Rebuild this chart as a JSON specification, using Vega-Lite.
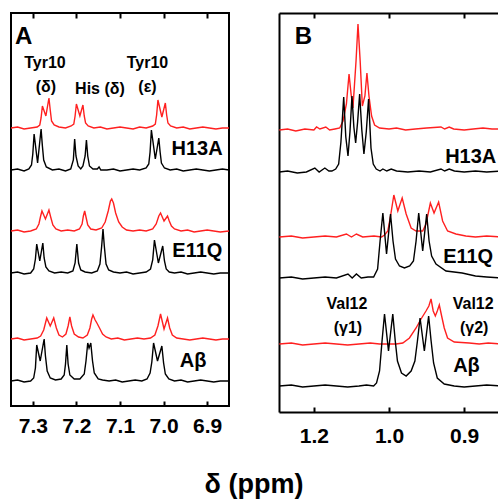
{
  "$schema": "https://vega.github.io/schema/vega-lite/v6.json",
  "autosize": {"type": "pad"},
  "padding": {"left": 10, "top": 11, "right": 0, "bottom": 2},
  "background": "white",
  "config": {"view": {"stroke": null}, "font": "Liberation Sans"},
  "bounds": "flush",
  "spacing": 50,
  "title": {"text": "δ (ppm)", "orient": "bottom", "anchor": "middle", "fontSize": 27, "fontWeight": "bold", "font": "Liberation Sans", "color": "black", "offset": 26},
  "datasets": {
    "specA": [
      {"sample":"H13A","condition":"bound","shift":7.350,"signal":278},{"sample":"H13A","condition":"bound","shift":7.335,"signal":279},{"sample":"H13A","condition":"bound","shift":7.320,"signal":277},{"sample":"H13A","condition":"bound","shift":7.305,"signal":278},{"sample":"H13A","condition":"bound","shift":7.290,"signal":279},{"sample":"H13A","condition":"bound","shift":7.284,"signal":281},{"sample":"H13A","condition":"bound","shift":7.281,"signal":288},{"sample":"H13A","condition":"bound","shift":7.278,"signal":300},{"sample":"H13A","condition":"bound","shift":7.270,"signal":290},{"sample":"H13A","condition":"bound","shift":7.263,"signal":308},{"sample":"H13A","condition":"bound","shift":7.260,"signal":296},{"sample":"H13A","condition":"bound","shift":7.257,"signal":285},{"sample":"H13A","condition":"bound","shift":7.251,"signal":281},{"sample":"H13A","condition":"bound","shift":7.240,"signal":279},{"sample":"H13A","condition":"bound","shift":7.225,"signal":278},{"sample":"H13A","condition":"bound","shift":7.212,"signal":280},{"sample":"H13A","condition":"bound","shift":7.206,"signal":282},{"sample":"H13A","condition":"bound","shift":7.203,"signal":290},{"sample":"H13A","condition":"bound","shift":7.200,"signal":302},{"sample":"H13A","condition":"bound","shift":7.192,"signal":290},{"sample":"H13A","condition":"bound","shift":7.185,"signal":301},{"sample":"H13A","condition":"bound","shift":7.182,"signal":290},{"sample":"H13A","condition":"bound","shift":7.179,"signal":283},{"sample":"H13A","condition":"bound","shift":7.173,"signal":280},{"sample":"H13A","condition":"bound","shift":7.160,"signal":278},{"sample":"H13A","condition":"bound","shift":7.145,"signal":279},{"sample":"H13A","condition":"bound","shift":7.130,"signal":277},{"sample":"H13A","condition":"bound","shift":7.115,"signal":278},{"sample":"H13A","condition":"bound","shift":7.100,"signal":279},{"sample":"H13A","condition":"bound","shift":7.085,"signal":278},{"sample":"H13A","condition":"bound","shift":7.070,"signal":277},{"sample":"H13A","condition":"bound","shift":7.055,"signal":279},{"sample":"H13A","condition":"bound","shift":7.040,"signal":278},{"sample":"H13A","condition":"bound","shift":7.025,"signal":280},{"sample":"H13A","condition":"bound","shift":7.019,"signal":282},{"sample":"H13A","condition":"bound","shift":7.016,"signal":291},{"sample":"H13A","condition":"bound","shift":7.013,"signal":306},{"sample":"H13A","condition":"bound","shift":7.004,"signal":289},{"sample":"H13A","condition":"bound","shift":6.996,"signal":303},{"sample":"H13A","condition":"bound","shift":6.993,"signal":291},{"sample":"H13A","condition":"bound","shift":6.990,"signal":283},{"sample":"H13A","condition":"bound","shift":6.984,"signal":280},{"sample":"H13A","condition":"bound","shift":6.970,"signal":278},{"sample":"H13A","condition":"bound","shift":6.955,"signal":279},{"sample":"H13A","condition":"bound","shift":6.940,"signal":277},{"sample":"H13A","condition":"bound","shift":6.925,"signal":278},{"sample":"H13A","condition":"bound","shift":6.910,"signal":279},{"sample":"H13A","condition":"bound","shift":6.895,"signal":278},{"sample":"H13A","condition":"bound","shift":6.880,"signal":277},{"sample":"H13A","condition":"bound","shift":6.865,"signal":278},{"sample":"H13A","condition":"bound","shift":6.850,"signal":278},

      {"sample":"H13A","condition":"free","shift":7.350,"signal":236},{"sample":"H13A","condition":"free","shift":7.335,"signal":237},{"sample":"H13A","condition":"free","shift":7.320,"signal":235},{"sample":"H13A","condition":"free","shift":7.309,"signal":237},{"sample":"H13A","condition":"free","shift":7.303,"signal":241},{"sample":"H13A","condition":"free","shift":7.300,"signal":252},{"sample":"H13A","condition":"free","shift":7.297,"signal":272},{"sample":"H13A","condition":"free","shift":7.289,"signal":243},{"sample":"H13A","condition":"free","shift":7.281,"signal":277},{"sample":"H13A","condition":"free","shift":7.278,"signal":260},{"sample":"H13A","condition":"free","shift":7.275,"signal":246},{"sample":"H13A","condition":"free","shift":7.269,"signal":239},{"sample":"H13A","condition":"free","shift":7.255,"signal":236},{"sample":"H13A","condition":"free","shift":7.240,"signal":237},{"sample":"H13A","condition":"free","shift":7.225,"signal":235},{"sample":"H13A","condition":"free","shift":7.213,"signal":237},{"sample":"H13A","condition":"free","shift":7.207,"signal":246},{"sample":"H13A","condition":"free","shift":7.204,"signal":267},{"sample":"H13A","condition":"free","shift":7.201,"signal":250},{"sample":"H13A","condition":"free","shift":7.196,"signal":240},{"sample":"H13A","condition":"free","shift":7.190,"signal":237},{"sample":"H13A","condition":"free","shift":7.185,"signal":240},{"sample":"H13A","condition":"free","shift":7.180,"signal":250},{"sample":"H13A","condition":"free","shift":7.177,"signal":266},{"sample":"H13A","condition":"free","shift":7.174,"signal":250},{"sample":"H13A","condition":"free","shift":7.170,"signal":240},{"sample":"H13A","condition":"free","shift":7.162,"signal":237},{"sample":"H13A","condition":"free","shift":7.152,"signal":237},{"sample":"H13A","condition":"free","shift":7.148,"signal":239},{"sample":"H13A","condition":"free","shift":7.144,"signal":236},{"sample":"H13A","condition":"free","shift":7.130,"signal":236},{"sample":"H13A","condition":"free","shift":7.115,"signal":237},{"sample":"H13A","condition":"free","shift":7.100,"signal":235},{"sample":"H13A","condition":"free","shift":7.085,"signal":236},{"sample":"H13A","condition":"free","shift":7.070,"signal":237},{"sample":"H13A","condition":"free","shift":7.055,"signal":236},{"sample":"H13A","condition":"free","shift":7.040,"signal":238},{"sample":"H13A","condition":"free","shift":7.034,"signal":242},{"sample":"H13A","condition":"free","shift":7.031,"signal":254},{"sample":"H13A","condition":"free","shift":7.028,"signal":276},{"sample":"H13A","condition":"free","shift":7.019,"signal":247},{"sample":"H13A","condition":"free","shift":7.011,"signal":268},{"sample":"H13A","condition":"free","shift":7.008,"signal":254},{"sample":"H13A","condition":"free","shift":7.005,"signal":243},{"sample":"H13A","condition":"free","shift":6.998,"signal":238},{"sample":"H13A","condition":"free","shift":6.985,"signal":236},{"sample":"H13A","condition":"free","shift":6.970,"signal":237},{"sample":"H13A","condition":"free","shift":6.955,"signal":235},{"sample":"H13A","condition":"free","shift":6.940,"signal":236},{"sample":"H13A","condition":"free","shift":6.925,"signal":237},{"sample":"H13A","condition":"free","shift":6.910,"signal":236},{"sample":"H13A","condition":"free","shift":6.895,"signal":235},{"sample":"H13A","condition":"free","shift":6.880,"signal":236},{"sample":"H13A","condition":"free","shift":6.865,"signal":237},{"sample":"H13A","condition":"free","shift":6.850,"signal":236},

      {"sample":"E11Q","condition":"bound","shift":7.350,"signal":175},{"sample":"E11Q","condition":"bound","shift":7.335,"signal":176},{"sample":"E11Q","condition":"bound","shift":7.320,"signal":174},{"sample":"E11Q","condition":"bound","shift":7.305,"signal":175},{"sample":"E11Q","condition":"bound","shift":7.292,"signal":177},{"sample":"E11Q","condition":"bound","shift":7.286,"signal":182},{"sample":"E11Q","condition":"bound","shift":7.282,"signal":190},{"sample":"E11Q","condition":"bound","shift":7.279,"signal":195},{"sample":"E11Q","condition":"bound","shift":7.271,"signal":187},{"sample":"E11Q","condition":"bound","shift":7.263,"signal":196},{"sample":"E11Q","condition":"bound","shift":7.259,"signal":189},{"sample":"E11Q","condition":"bound","shift":7.254,"signal":181},{"sample":"E11Q","condition":"bound","shift":7.247,"signal":177},{"sample":"E11Q","condition":"bound","shift":7.235,"signal":175},{"sample":"E11Q","condition":"bound","shift":7.220,"signal":176},{"sample":"E11Q","condition":"bound","shift":7.205,"signal":175},{"sample":"E11Q","condition":"bound","shift":7.193,"signal":177},{"sample":"E11Q","condition":"bound","shift":7.187,"signal":182},{"sample":"E11Q","condition":"bound","shift":7.184,"signal":190},{"sample":"E11Q","condition":"bound","shift":7.181,"signal":195},{"sample":"E11Q","condition":"bound","shift":7.178,"signal":189},{"sample":"E11Q","condition":"bound","shift":7.174,"signal":181},{"sample":"E11Q","condition":"bound","shift":7.167,"signal":177},{"sample":"E11Q","condition":"bound","shift":7.155,"signal":176},{"sample":"E11Q","condition":"bound","shift":7.142,"signal":178},{"sample":"E11Q","condition":"bound","shift":7.134,"signal":184},{"sample":"E11Q","condition":"bound","shift":7.127,"signal":195},{"sample":"E11Q","condition":"bound","shift":7.122,"signal":205},{"sample":"E11Q","condition":"bound","shift":7.119,"signal":207},{"sample":"E11Q","condition":"bound","shift":7.115,"signal":203},{"sample":"E11Q","condition":"bound","shift":7.110,"signal":193},{"sample":"E11Q","condition":"bound","shift":7.103,"signal":184},{"sample":"E11Q","condition":"bound","shift":7.095,"signal":179},{"sample":"E11Q","condition":"bound","shift":7.085,"signal":176},{"sample":"E11Q","condition":"bound","shift":7.070,"signal":175},{"sample":"E11Q","condition":"bound","shift":7.055,"signal":176},{"sample":"E11Q","condition":"bound","shift":7.040,"signal":175},{"sample":"E11Q","condition":"bound","shift":7.025,"signal":177},{"sample":"E11Q","condition":"bound","shift":7.017,"signal":182},{"sample":"E11Q","condition":"bound","shift":7.011,"signal":190},{"sample":"E11Q","condition":"bound","shift":7.007,"signal":193},{"sample":"E11Q","condition":"bound","shift":6.999,"signal":185},{"sample":"E11Q","condition":"bound","shift":6.991,"signal":190},{"sample":"E11Q","condition":"bound","shift":6.987,"signal":185},{"sample":"E11Q","condition":"bound","shift":6.982,"signal":180},{"sample":"E11Q","condition":"bound","shift":6.975,"signal":177},{"sample":"E11Q","condition":"bound","shift":6.960,"signal":175},{"sample":"E11Q","condition":"bound","shift":6.945,"signal":176},{"sample":"E11Q","condition":"bound","shift":6.930,"signal":174},{"sample":"E11Q","condition":"bound","shift":6.915,"signal":175},{"sample":"E11Q","condition":"bound","shift":6.900,"signal":176},{"sample":"E11Q","condition":"bound","shift":6.885,"signal":175},{"sample":"E11Q","condition":"bound","shift":6.870,"signal":174},{"sample":"E11Q","condition":"bound","shift":6.850,"signal":175},

      {"sample":"E11Q","condition":"free","shift":7.350,"signal":133},{"sample":"E11Q","condition":"free","shift":7.335,"signal":134},{"sample":"E11Q","condition":"free","shift":7.320,"signal":132},{"sample":"E11Q","condition":"free","shift":7.305,"signal":133},{"sample":"E11Q","condition":"free","shift":7.298,"signal":137},{"sample":"E11Q","condition":"free","shift":7.294,"signal":147},{"sample":"E11Q","condition":"free","shift":7.291,"signal":162},{"sample":"E11Q","condition":"free","shift":7.284,"signal":145},{"sample":"E11Q","condition":"free","shift":7.277,"signal":163},{"sample":"E11Q","condition":"free","shift":7.274,"signal":148},{"sample":"E11Q","condition":"free","shift":7.270,"signal":139},{"sample":"E11Q","condition":"free","shift":7.263,"signal":135},{"sample":"E11Q","condition":"free","shift":7.250,"signal":133},{"sample":"E11Q","condition":"free","shift":7.235,"signal":134},{"sample":"E11Q","condition":"free","shift":7.220,"signal":133},{"sample":"E11Q","condition":"free","shift":7.208,"signal":135},{"sample":"E11Q","condition":"free","shift":7.203,"signal":143},{"sample":"E11Q","condition":"free","shift":7.199,"signal":162},{"sample":"E11Q","condition":"free","shift":7.195,"signal":143},{"sample":"E11Q","condition":"free","shift":7.190,"signal":136},{"sample":"E11Q","condition":"free","shift":7.180,"signal":134},{"sample":"E11Q","condition":"free","shift":7.165,"signal":133},{"sample":"E11Q","condition":"free","shift":7.152,"signal":135},{"sample":"E11Q","condition":"free","shift":7.146,"signal":142},{"sample":"E11Q","condition":"free","shift":7.142,"signal":160},{"sample":"E11Q","condition":"free","shift":7.139,"signal":177},{"sample":"E11Q","condition":"free","shift":7.136,"signal":160},{"sample":"E11Q","condition":"free","shift":7.132,"signal":142},{"sample":"E11Q","condition":"free","shift":7.126,"signal":136},{"sample":"E11Q","condition":"free","shift":7.115,"signal":134},{"sample":"E11Q","condition":"free","shift":7.100,"signal":133},{"sample":"E11Q","condition":"free","shift":7.085,"signal":134},{"sample":"E11Q","condition":"free","shift":7.070,"signal":132},{"sample":"E11Q","condition":"free","shift":7.055,"signal":133},{"sample":"E11Q","condition":"free","shift":7.040,"signal":134},{"sample":"E11Q","condition":"free","shift":7.030,"signal":137},{"sample":"E11Q","condition":"free","shift":7.025,"signal":146},{"sample":"E11Q","condition":"free","shift":7.021,"signal":166},{"sample":"E11Q","condition":"free","shift":7.012,"signal":143},{"sample":"E11Q","condition":"free","shift":7.002,"signal":160},{"sample":"E11Q","condition":"free","shift":6.998,"signal":145},{"sample":"E11Q","condition":"free","shift":6.994,"signal":137},{"sample":"E11Q","condition":"free","shift":6.987,"signal":134},{"sample":"E11Q","condition":"free","shift":6.975,"signal":133},{"sample":"E11Q","condition":"free","shift":6.960,"signal":134},{"sample":"E11Q","condition":"free","shift":6.945,"signal":132},{"sample":"E11Q","condition":"free","shift":6.930,"signal":133},{"sample":"E11Q","condition":"free","shift":6.915,"signal":134},{"sample":"E11Q","condition":"free","shift":6.900,"signal":133},{"sample":"E11Q","condition":"free","shift":6.885,"signal":132},{"sample":"E11Q","condition":"free","shift":6.870,"signal":133},{"sample":"E11Q","condition":"free","shift":6.850,"signal":133},

      {"sample":"Ab","condition":"bound","shift":7.350,"signal":67},{"sample":"Ab","condition":"bound","shift":7.335,"signal":68},{"sample":"Ab","condition":"bound","shift":7.320,"signal":66},{"sample":"Ab","condition":"bound","shift":7.305,"signal":67},{"sample":"Ab","condition":"bound","shift":7.290,"signal":68},{"sample":"Ab","condition":"bound","shift":7.282,"signal":70},{"sample":"Ab","condition":"bound","shift":7.275,"signal":76},{"sample":"Ab","condition":"bound","shift":7.268,"signal":88},{"sample":"Ab","condition":"bound","shift":7.260,"signal":80},{"sample":"Ab","condition":"bound","shift":7.252,"signal":88},{"sample":"Ab","condition":"bound","shift":7.246,"signal":78},{"sample":"Ab","condition":"bound","shift":7.240,"signal":71},{"sample":"Ab","condition":"bound","shift":7.232,"signal":69},{"sample":"Ab","condition":"bound","shift":7.224,"signal":72},{"sample":"Ab","condition":"bound","shift":7.219,"signal":80},{"sample":"Ab","condition":"bound","shift":7.215,"signal":89},{"sample":"Ab","condition":"bound","shift":7.211,"signal":80},{"sample":"Ab","condition":"bound","shift":7.205,"signal":72},{"sample":"Ab","condition":"bound","shift":7.195,"signal":69},{"sample":"Ab","condition":"bound","shift":7.185,"signal":68},{"sample":"Ab","condition":"bound","shift":7.175,"signal":71},{"sample":"Ab","condition":"bound","shift":7.169,"signal":78},{"sample":"Ab","condition":"bound","shift":7.165,"signal":87},{"sample":"Ab","condition":"bound","shift":7.162,"signal":91},{"sample":"Ab","condition":"bound","shift":7.157,"signal":86},{"sample":"Ab","condition":"bound","shift":7.153,"signal":83},{"sample":"Ab","condition":"bound","shift":7.147,"signal":78},{"sample":"Ab","condition":"bound","shift":7.140,"signal":72},{"sample":"Ab","condition":"bound","shift":7.132,"signal":69},{"sample":"Ab","condition":"bound","shift":7.120,"signal":67},{"sample":"Ab","condition":"bound","shift":7.105,"signal":68},{"sample":"Ab","condition":"bound","shift":7.090,"signal":66},{"sample":"Ab","condition":"bound","shift":7.075,"signal":67},{"sample":"Ab","condition":"bound","shift":7.060,"signal":68},{"sample":"Ab","condition":"bound","shift":7.045,"signal":67},{"sample":"Ab","condition":"bound","shift":7.030,"signal":68},{"sample":"Ab","condition":"bound","shift":7.020,"signal":71},{"sample":"Ab","condition":"bound","shift":7.013,"signal":80},{"sample":"Ab","condition":"bound","shift":7.007,"signal":92},{"sample":"Ab","condition":"bound","shift":6.999,"signal":77},{"sample":"Ab","condition":"bound","shift":6.991,"signal":88},{"sample":"Ab","condition":"bound","shift":6.986,"signal":78},{"sample":"Ab","condition":"bound","shift":6.980,"signal":71},{"sample":"Ab","condition":"bound","shift":6.970,"signal":68},{"sample":"Ab","condition":"bound","shift":6.955,"signal":67},{"sample":"Ab","condition":"bound","shift":6.940,"signal":66},{"sample":"Ab","condition":"bound","shift":6.925,"signal":67},{"sample":"Ab","condition":"bound","shift":6.910,"signal":68},{"sample":"Ab","condition":"bound","shift":6.895,"signal":67},{"sample":"Ab","condition":"bound","shift":6.880,"signal":66},{"sample":"Ab","condition":"bound","shift":6.865,"signal":67},{"sample":"Ab","condition":"bound","shift":6.850,"signal":67},

      {"sample":"Ab","condition":"free","shift":7.350,"signal":25},{"sample":"Ab","condition":"free","shift":7.335,"signal":26},{"sample":"Ab","condition":"free","shift":7.320,"signal":24},{"sample":"Ab","condition":"free","shift":7.305,"signal":25},{"sample":"Ab","condition":"free","shift":7.298,"signal":28},{"sample":"Ab","condition":"free","shift":7.294,"signal":38},{"sample":"Ab","condition":"free","shift":7.291,"signal":61},{"sample":"Ab","condition":"free","shift":7.283,"signal":45},{"sample":"Ab","condition":"free","shift":7.274,"signal":67},{"sample":"Ab","condition":"free","shift":7.271,"signal":50},{"sample":"Ab","condition":"free","shift":7.267,"signal":35},{"sample":"Ab","condition":"free","shift":7.260,"signal":28},{"sample":"Ab","condition":"free","shift":7.248,"signal":26},{"sample":"Ab","condition":"free","shift":7.235,"signal":27},{"sample":"Ab","condition":"free","shift":7.228,"signal":31},{"sample":"Ab","condition":"free","shift":7.225,"signal":42},{"sample":"Ab","condition":"free","shift":7.222,"signal":61},{"sample":"Ab","condition":"free","shift":7.219,"signal":42},{"sample":"Ab","condition":"free","shift":7.215,"signal":31},{"sample":"Ab","condition":"free","shift":7.205,"signal":27},{"sample":"Ab","condition":"free","shift":7.192,"signal":27},{"sample":"Ab","condition":"free","shift":7.182,"signal":32},{"sample":"Ab","condition":"free","shift":7.178,"signal":45},{"sample":"Ab","condition":"free","shift":7.174,"signal":63},{"sample":"Ab","condition":"free","shift":7.171,"signal":58},{"sample":"Ab","condition":"free","shift":7.167,"signal":63},{"sample":"Ab","condition":"free","shift":7.163,"signal":45},{"sample":"Ab","condition":"free","shift":7.159,"signal":33},{"sample":"Ab","condition":"free","shift":7.150,"signal":27},{"sample":"Ab","condition":"free","shift":7.140,"signal":26},{"sample":"Ab","condition":"free","shift":7.125,"signal":25},{"sample":"Ab","condition":"free","shift":7.110,"signal":26},{"sample":"Ab","condition":"free","shift":7.095,"signal":24},{"sample":"Ab","condition":"free","shift":7.080,"signal":25},{"sample":"Ab","condition":"free","shift":7.065,"signal":26},{"sample":"Ab","condition":"free","shift":7.050,"signal":25},{"sample":"Ab","condition":"free","shift":7.038,"signal":27},{"sample":"Ab","condition":"free","shift":7.031,"signal":33},{"sample":"Ab","condition":"free","shift":7.027,"signal":44},{"sample":"Ab","condition":"free","shift":7.023,"signal":63},{"sample":"Ab","condition":"free","shift":7.014,"signal":45},{"sample":"Ab","condition":"free","shift":7.004,"signal":60},{"sample":"Ab","condition":"free","shift":7.000,"signal":43},{"sample":"Ab","condition":"free","shift":6.996,"signal":32},{"sample":"Ab","condition":"free","shift":6.988,"signal":27},{"sample":"Ab","condition":"free","shift":6.975,"signal":25},{"sample":"Ab","condition":"free","shift":6.960,"signal":26},{"sample":"Ab","condition":"free","shift":6.945,"signal":24},{"sample":"Ab","condition":"free","shift":6.930,"signal":25},{"sample":"Ab","condition":"free","shift":6.915,"signal":26},{"sample":"Ab","condition":"free","shift":6.900,"signal":25},{"sample":"Ab","condition":"free","shift":6.885,"signal":24},{"sample":"Ab","condition":"free","shift":6.870,"signal":25},{"sample":"Ab","condition":"free","shift":6.850,"signal":25}
    ],
    "specB": [
      {"sample":"H13A","condition":"bound","shift":1.146,"signal":282},{"sample":"H13A","condition":"bound","shift":1.135,"signal":283},{"sample":"H13A","condition":"bound","shift":1.124,"signal":281},{"sample":"H13A","condition":"bound","shift":1.112,"signal":283},{"sample":"H13A","condition":"bound","shift":1.100,"signal":282},{"sample":"H13A","condition":"bound","shift":1.0964,"signal":285},{"sample":"H13A","condition":"bound","shift":1.092,"signal":283},{"sample":"H13A","condition":"bound","shift":1.0841,"signal":285},{"sample":"H13A","condition":"bound","shift":1.079,"signal":282},{"sample":"H13A","condition":"bound","shift":1.072,"signal":283},{"sample":"H13A","condition":"bound","shift":1.0656,"signal":284},{"sample":"H13A","condition":"bound","shift":1.0612,"signal":291},{"sample":"H13A","condition":"bound","shift":1.0567,"signal":308},{"sample":"H13A","condition":"bound","shift":1.0532,"signal":338},{"sample":"H13A","condition":"bound","shift":1.0505,"signal":318},{"sample":"H13A","condition":"bound","shift":1.0480,"signal":304},{"sample":"H13A","condition":"bound","shift":1.0439,"signal":351},{"sample":"H13A","condition":"bound","shift":1.0413,"signal":388},{"sample":"H13A","condition":"bound","shift":1.0384,"signal":351},{"sample":"H13A","condition":"bound","shift":1.0355,"signal":306},{"sample":"H13A","condition":"bound","shift":1.0321,"signal":316},{"sample":"H13A","condition":"bound","shift":1.0294,"signal":339},{"sample":"H13A","condition":"bound","shift":1.0267,"signal":316},{"sample":"H13A","condition":"bound","shift":1.0232,"signal":296},{"sample":"H13A","condition":"bound","shift":1.0192,"signal":287},{"sample":"H13A","condition":"bound","shift":1.0126,"signal":284},{"sample":"H13A","condition":"bound","shift":1.000,"signal":283},{"sample":"H13A","condition":"bound","shift":0.990,"signal":284},{"sample":"H13A","condition":"bound","shift":0.978,"signal":282},{"sample":"H13A","condition":"bound","shift":0.965,"signal":283},{"sample":"H13A","condition":"bound","shift":0.950,"signal":284},{"sample":"H13A","condition":"bound","shift":0.9309,"signal":285},{"sample":"H13A","condition":"bound","shift":0.926,"signal":283},{"sample":"H13A","condition":"bound","shift":0.9199,"signal":285},{"sample":"H13A","condition":"bound","shift":0.914,"signal":283},{"sample":"H13A","condition":"bound","shift":0.900,"signal":282},{"sample":"H13A","condition":"bound","shift":0.888,"signal":283},{"sample":"H13A","condition":"bound","shift":0.875,"signal":284},{"sample":"H13A","condition":"bound","shift":0.863,"signal":283},{"sample":"H13A","condition":"bound","shift":0.850,"signal":283},

      {"sample":"H13A","condition":"free","shift":1.146,"signal":240},{"sample":"H13A","condition":"free","shift":1.135,"signal":241},{"sample":"H13A","condition":"free","shift":1.122,"signal":239},{"sample":"H13A","condition":"free","shift":1.110,"signal":240},{"sample":"H13A","condition":"free","shift":1.0987,"signal":244},{"sample":"H13A","condition":"free","shift":1.093,"signal":240},{"sample":"H13A","condition":"free","shift":1.0854,"signal":244},{"sample":"H13A","condition":"free","shift":1.080,"signal":241},{"sample":"H13A","condition":"free","shift":1.0760,"signal":241},{"sample":"H13A","condition":"free","shift":1.0710,"signal":243},{"sample":"H13A","condition":"free","shift":1.0670,"signal":248},{"sample":"H13A","condition":"free","shift":1.0640,"signal":270},{"sample":"H13A","condition":"free","shift":1.0603,"signal":315},{"sample":"H13A","condition":"free","shift":1.0575,"signal":275},{"sample":"H13A","condition":"free","shift":1.0546,"signal":256},{"sample":"H13A","condition":"free","shift":1.0520,"signal":280},{"sample":"H13A","condition":"free","shift":1.0493,"signal":316},{"sample":"H13A","condition":"free","shift":1.0468,"signal":285},{"sample":"H13A","condition":"free","shift":1.0444,"signal":269},{"sample":"H13A","condition":"free","shift":1.0418,"signal":290},{"sample":"H13A","condition":"free","shift":1.0391,"signal":318},{"sample":"H13A","condition":"free","shift":1.0362,"signal":282},{"sample":"H13A","condition":"free","shift":1.0334,"signal":258},{"sample":"H13A","condition":"free","shift":1.0303,"signal":280},{"sample":"H13A","condition":"free","shift":1.0272,"signal":313},{"sample":"H13A","condition":"free","shift":1.0240,"signal":264},{"sample":"H13A","condition":"free","shift":1.0210,"signal":248},{"sample":"H13A","condition":"free","shift":1.0170,"signal":243},{"sample":"H13A","condition":"free","shift":1.0120,"signal":241},{"sample":"H13A","condition":"free","shift":1.0082,"signal":243},{"sample":"H13A","condition":"free","shift":1.003,"signal":241},{"sample":"H13A","condition":"free","shift":0.9971,"signal":243},{"sample":"H13A","condition":"free","shift":0.990,"signal":241},{"sample":"H13A","condition":"free","shift":0.975,"signal":240},{"sample":"H13A","condition":"free","shift":0.960,"signal":241},{"sample":"H13A","condition":"free","shift":0.945,"signal":240},{"sample":"H13A","condition":"free","shift":0.9309,"signal":243},{"sample":"H13A","condition":"free","shift":0.926,"signal":241},{"sample":"H13A","condition":"free","shift":0.9199,"signal":243},{"sample":"H13A","condition":"free","shift":0.913,"signal":241},{"sample":"H13A","condition":"free","shift":0.900,"signal":240},{"sample":"H13A","condition":"free","shift":0.885,"signal":241},{"sample":"H13A","condition":"free","shift":0.870,"signal":240},{"sample":"H13A","condition":"free","shift":0.850,"signal":241},

      {"sample":"E11Q","condition":"bound","shift":1.146,"signal":175},{"sample":"E11Q","condition":"bound","shift":1.130,"signal":176},{"sample":"E11Q","condition":"bound","shift":1.115,"signal":174},{"sample":"E11Q","condition":"bound","shift":1.100,"signal":175},{"sample":"E11Q","condition":"bound","shift":1.085,"signal":176},{"sample":"E11Q","condition":"bound","shift":1.070,"signal":175},{"sample":"E11Q","condition":"bound","shift":1.0567,"signal":178},{"sample":"E11Q","condition":"bound","shift":1.050,"signal":175},{"sample":"E11Q","condition":"bound","shift":1.0434,"signal":178},{"sample":"E11Q","condition":"bound","shift":1.035,"signal":175},{"sample":"E11Q","condition":"bound","shift":1.020,"signal":176},{"sample":"E11Q","condition":"bound","shift":1.010,"signal":175},{"sample":"E11Q","condition":"bound","shift":1.006,"signal":177},{"sample":"E11Q","condition":"bound","shift":1.0016,"signal":181},{"sample":"E11Q","condition":"bound","shift":0.9984,"signal":194},{"sample":"E11Q","condition":"bound","shift":0.9936,"signal":217},{"sample":"E11Q","condition":"bound","shift":0.9883,"signal":201},{"sample":"E11Q","condition":"bound","shift":0.9825,"signal":214},{"sample":"E11Q","condition":"bound","shift":0.9772,"signal":198},{"sample":"E11Q","condition":"bound","shift":0.9706,"signal":184},{"sample":"E11Q","condition":"bound","shift":0.964,"signal":181},{"sample":"E11Q","condition":"bound","shift":0.9552,"signal":181},{"sample":"E11Q","condition":"bound","shift":0.9508,"signal":188},{"sample":"E11Q","condition":"bound","shift":0.945,"signal":209},{"sample":"E11Q","condition":"bound","shift":0.9401,"signal":199},{"sample":"E11Q","condition":"bound","shift":0.934,"signal":210},{"sample":"E11Q","condition":"bound","shift":0.9287,"signal":191},{"sample":"E11Q","condition":"bound","shift":0.9221,"signal":181},{"sample":"E11Q","condition":"bound","shift":0.911,"signal":178},{"sample":"E11Q","condition":"bound","shift":0.8978,"signal":176},{"sample":"E11Q","condition":"bound","shift":0.885,"signal":175},{"sample":"E11Q","condition":"bound","shift":0.870,"signal":176},{"sample":"E11Q","condition":"bound","shift":0.850,"signal":175},

      {"sample":"E11Q","condition":"free","shift":1.146,"signal":134},{"sample":"E11Q","condition":"free","shift":1.130,"signal":135},{"sample":"E11Q","condition":"free","shift":1.115,"signal":133},{"sample":"E11Q","condition":"free","shift":1.100,"signal":134},{"sample":"E11Q","condition":"free","shift":1.085,"signal":135},{"sample":"E11Q","condition":"free","shift":1.070,"signal":134},{"sample":"E11Q","condition":"free","shift":1.0546,"signal":138},{"sample":"E11Q","condition":"free","shift":1.049,"signal":134},{"sample":"E11Q","condition":"free","shift":1.0434,"signal":138},{"sample":"E11Q","condition":"free","shift":1.037,"signal":134},{"sample":"E11Q","condition":"free","shift":1.028,"signal":135},{"sample":"E11Q","condition":"free","shift":1.0205,"signal":135},{"sample":"E11Q","condition":"free","shift":1.0152,"signal":143},{"sample":"E11Q","condition":"free","shift":1.0119,"signal":171},{"sample":"E11Q","condition":"free","shift":1.0082,"signal":199},{"sample":"E11Q","condition":"free","shift":1.0033,"signal":158},{"sample":"E11Q","condition":"free","shift":0.998,"signal":198},{"sample":"E11Q","condition":"free","shift":0.9947,"signal":171},{"sample":"E11Q","condition":"free","shift":0.9914,"signal":153},{"sample":"E11Q","condition":"free","shift":0.9861,"signal":146},{"sample":"E11Q","condition":"free","shift":0.9795,"signal":144},{"sample":"E11Q","condition":"free","shift":0.9725,"signal":146},{"sample":"E11Q","condition":"free","shift":0.9675,"signal":151},{"sample":"E11Q","condition":"free","shift":0.964,"signal":171},{"sample":"E11Q","condition":"free","shift":0.9605,"signal":199},{"sample":"E11Q","condition":"free","shift":0.9552,"signal":161},{"sample":"E11Q","condition":"free","shift":0.9499,"signal":198},{"sample":"E11Q","condition":"free","shift":0.9467,"signal":171},{"sample":"E11Q","condition":"free","shift":0.9433,"signal":156},{"sample":"E11Q","condition":"free","shift":0.9375,"signal":148},{"sample":"E11Q","condition":"free","shift":0.9242,"signal":141},{"sample":"E11Q","condition":"free","shift":0.9027,"signal":139},{"sample":"E11Q","condition":"free","shift":0.885,"signal":136},{"sample":"E11Q","condition":"free","shift":0.870,"signal":135},{"sample":"E11Q","condition":"free","shift":0.850,"signal":134},

      {"sample":"Ab","condition":"bound","shift":1.146,"signal":68},{"sample":"Ab","condition":"bound","shift":1.130,"signal":69},{"sample":"Ab","condition":"bound","shift":1.115,"signal":67},{"sample":"Ab","condition":"bound","shift":1.100,"signal":68},{"sample":"Ab","condition":"bound","shift":1.085,"signal":69},{"sample":"Ab","condition":"bound","shift":1.070,"signal":68},{"sample":"Ab","condition":"bound","shift":1.055,"signal":67},{"sample":"Ab","condition":"bound","shift":1.040,"signal":68},{"sample":"Ab","condition":"bound","shift":1.025,"signal":69},{"sample":"Ab","condition":"bound","shift":1.0126,"signal":68},{"sample":"Ab","condition":"bound","shift":0.9905,"signal":68},{"sample":"Ab","condition":"bound","shift":0.9817,"signal":69},{"sample":"Ab","condition":"bound","shift":0.9728,"signal":74},{"sample":"Ab","condition":"bound","shift":0.964,"signal":84},{"sample":"Ab","condition":"bound","shift":0.9574,"signal":93},{"sample":"Ab","condition":"bound","shift":0.9508,"signal":101},{"sample":"Ab","condition":"bound","shift":0.9470,"signal":106},{"sample":"Ab","condition":"bound","shift":0.9441,"signal":113},{"sample":"Ab","condition":"bound","shift":0.9412,"signal":101},{"sample":"Ab","condition":"bound","shift":0.9384,"signal":96},{"sample":"Ab","condition":"bound","shift":0.9358,"signal":101},{"sample":"Ab","condition":"bound","shift":0.9331,"signal":107},{"sample":"Ab","condition":"bound","shift":0.9300,"signal":96},{"sample":"Ab","condition":"bound","shift":0.9265,"signal":84},{"sample":"Ab","condition":"bound","shift":0.9221,"signal":74},{"sample":"Ab","condition":"bound","shift":0.9132,"signal":70},{"sample":"Ab","condition":"bound","shift":0.8934,"signal":69},{"sample":"Ab","condition":"bound","shift":0.880,"signal":68},{"sample":"Ab","condition":"bound","shift":0.868,"signal":69},{"sample":"Ab","condition":"bound","shift":0.850,"signal":68},

      {"sample":"Ab","condition":"free","shift":1.146,"signal":26},{"sample":"Ab","condition":"free","shift":1.130,"signal":27},{"sample":"Ab","condition":"free","shift":1.115,"signal":25},{"sample":"Ab","condition":"free","shift":1.100,"signal":26},{"sample":"Ab","condition":"free","shift":1.085,"signal":27},{"sample":"Ab","condition":"free","shift":1.070,"signal":26},{"sample":"Ab","condition":"free","shift":1.055,"signal":25},{"sample":"Ab","condition":"free","shift":1.040,"signal":26},{"sample":"Ab","condition":"free","shift":1.030,"signal":27},{"sample":"Ab","condition":"free","shift":1.0205,"signal":26},{"sample":"Ab","condition":"free","shift":1.0166,"signal":29},{"sample":"Ab","condition":"free","shift":1.0126,"signal":41},{"sample":"Ab","condition":"free","shift":1.0093,"signal":71},{"sample":"Ab","condition":"free","shift":1.006,"signal":98},{"sample":"Ab","condition":"free","shift":1.0007,"signal":61},{"sample":"Ab","condition":"free","shift":0.995,"signal":98},{"sample":"Ab","condition":"free","shift":0.9917,"signal":71},{"sample":"Ab","condition":"free","shift":0.9888,"signal":51},{"sample":"Ab","condition":"free","shift":0.9834,"signal":39},{"sample":"Ab","condition":"free","shift":0.9772,"signal":36},{"sample":"Ab","condition":"free","shift":0.9706,"signal":41},{"sample":"Ab","condition":"free","shift":0.9656,"signal":51},{"sample":"Ab","condition":"free","shift":0.9622,"signal":71},{"sample":"Ab","condition":"free","shift":0.9587,"signal":94},{"sample":"Ab","condition":"free","shift":0.953,"signal":61},{"sample":"Ab","condition":"free","shift":0.9473,"signal":96},{"sample":"Ab","condition":"free","shift":0.944,"signal":71},{"sample":"Ab","condition":"free","shift":0.9407,"signal":49},{"sample":"Ab","condition":"free","shift":0.9358,"signal":34},{"sample":"Ab","condition":"free","shift":0.9265,"signal":28},{"sample":"Ab","condition":"free","shift":0.9133,"signal":26},{"sample":"Ab","condition":"free","shift":0.900,"signal":25},{"sample":"Ab","condition":"free","shift":0.885,"signal":26},{"sample":"Ab","condition":"free","shift":0.870,"signal":27},{"sample":"Ab","condition":"free","shift":0.850,"signal":26}
    ],
    "notesA": [
      {"role":"panel","label":"A","shift":7.3408,"signal":369},
      {"role":"residue","label":"Tyr10","shift":7.272,"signal":343},
      {"role":"residue","label":"(δ)","shift":7.270,"signal":319},
      {"role":"residue","label":"His (δ)","shift":7.146,"signal":317},
      {"role":"residue","label":"Tyr10","shift":7.037,"signal":343},
      {"role":"residue","label":"(ε)","shift":7.037,"signal":319},
      {"role":"sample","label":"H13A","shift":6.982,"signal":257},
      {"role":"sample","label":"E11Q","shift":6.980,"signal":155},
      {"role":"sample","label":"Aβ","shift":6.963,"signal":45}
    ],
    "notesB": [
      {"role":"panel","label":"B","shift":1.1253,"signal":375},
      {"role":"sample","label":"H13A","shift":0.9253,"signal":255},
      {"role":"sample","label":"E11Q","shift":0.928,"signal":155},
      {"role":"sample","label":"Aβ","shift":0.9147,"signal":46},
      {"role":"residue","label":"Val12","shift":1.056,"signal":108},
      {"role":"residue","label":"(γ1)","shift":1.0547,"signal":84},
      {"role":"residue","label":"Val12","shift":0.888,"signal":108},
      {"role":"residue","label":"(γ2)","shift":0.8867,"signal":84}
    ]
  },
  "hconcat": [
    {
      "width": 218,
      "height": 393,
      "view": {"stroke": "black", "strokeWidth": 2},
      "resolve": {"axis": {"x": "independent"}},
      "layer": [
        {
          "data": {"name": "specA"},
          "mark": {"type": "line", "strokeWidth": 1.4, "clip": true, "interpolate": "linear"},
          "encoding": {
            "x": {"field": "shift", "type": "quantitative", "scale": {"domain": [6.85, 7.35], "reverse": true, "nice": false, "zero": false},
              "axis": {"orient": "bottom", "values": [7.3, 7.2, 7.1, 7.0, 6.9], "format": ".1f", "domain": false, "grid": false, "ticks": true, "tickSize": -5, "tickWidth": 2, "tickColor": "black", "labelFontSize": 21, "labelFontWeight": "bold", "labelColor": "black", "labelFont": "Liberation Sans", "labelPadding": 14, "title": null}},
            "y": {"field": "signal", "type": "quantitative", "scale": {"domain": [0, 393], "nice": false, "zero": false}, "axis": null},
            "color": {"field": "condition", "type": "nominal", "scale": {"domain": ["free", "bound"], "range": ["#000000", "#ff2020"]}, "legend": null},
            "detail": {"field": "sample"}
          }
        },
        {
          "data": {"values": [{"shift": 7.1, "signal": 200}]},
          "mark": {"type": "point", "opacity": 0},
          "encoding": {
            "x": {"field": "shift", "type": "quantitative", "scale": {"domain": [6.85, 7.35], "reverse": true, "nice": false, "zero": false},
              "axis": {"orient": "top", "values": [7.3, 7.2, 7.1, 7.0, 6.9], "domain": false, "grid": false, "labels": false, "ticks": true, "tickSize": -5, "tickWidth": 2, "tickColor": "black", "title": null}},
            "y": {"field": "signal", "type": "quantitative", "scale": {"domain": [0, 393], "nice": false, "zero": false}, "axis": null}
          }
        },
        {
          "data": {"name": "notesA"},
          "transform": [{"filter": "datum.role !== 'residue'"}],
          "mark": {"type": "text", "align": "left", "baseline": "middle", "fontWeight": "bold", "font": "Liberation Sans", "color": "black"},
          "encoding": {
            "x": {"field": "shift", "type": "quantitative", "scale": {"domain": [6.85, 7.35], "reverse": true, "nice": false, "zero": false}, "axis": null},
            "y": {"field": "signal", "type": "quantitative", "scale": {"domain": [0, 393], "nice": false, "zero": false}, "axis": null},
            "text": {"field": "label"},
            "size": {"field": "role", "type": "nominal", "scale": {"domain": ["panel", "sample"], "range": [24, 20]}, "legend": null}
          }
        },
        {
          "data": {"name": "notesA"},
          "transform": [{"filter": "datum.role === 'residue'"}],
          "mark": {"type": "text", "align": "center", "baseline": "middle", "fontWeight": "bold", "font": "Liberation Sans", "fontSize": 16, "color": "black"},
          "encoding": {
            "x": {"field": "shift", "type": "quantitative", "scale": {"domain": [6.85, 7.35], "reverse": true, "nice": false, "zero": false}, "axis": null},
            "y": {"field": "signal", "type": "quantitative", "scale": {"domain": [0, 393], "nice": false, "zero": false}, "axis": null},
            "text": {"field": "label"}
          }
        }
      ]
    },
    {
      "width": 219,
      "height": 399,
      "resolve": {"axis": {"x": "independent"}},
      "layer": [
        {
          "data": {"name": "specB"},
          "mark": {"type": "line", "strokeWidth": 1.4, "clip": true, "interpolate": "linear"},
          "encoding": {
            "x": {"field": "shift", "type": "quantitative", "scale": {"domain": [0.855, 1.1464], "reverse": true, "nice": false, "zero": false},
              "axis": {"orient": "bottom", "values": [1.1, 1.0, 0.9], "labelExpr": "datum.value > 1.05 ? '1.2' : format(datum.value, '.1f')", "domain": true, "domainWidth": 2, "domainColor": "black", "grid": false, "ticks": true, "tickSize": -5, "tickWidth": 2, "tickColor": "black", "labelFontSize": 21, "labelFontWeight": "bold", "labelColor": "black", "labelFont": "Liberation Sans", "labelPadding": 18, "title": null}},
            "y": {"field": "signal", "type": "quantitative", "scale": {"domain": [0, 399], "nice": false, "zero": false},
              "axis": {"orient": "left", "domain": true, "domainWidth": 2, "domainColor": "black", "ticks": false, "labels": false, "grid": false, "title": null}},
            "color": {"field": "condition", "type": "nominal", "scale": {"domain": ["free", "bound"], "range": ["#000000", "#ff2020"]}, "legend": null},
            "detail": {"field": "sample"}
          }
        },
        {
          "data": {"values": [{"shift": 1.0, "signal": 200}]},
          "mark": {"type": "point", "opacity": 0},
          "encoding": {
            "x": {"field": "shift", "type": "quantitative", "scale": {"domain": [0.855, 1.1464], "reverse": true, "nice": false, "zero": false},
              "axis": {"orient": "top", "values": [1.1, 1.0, 0.9], "domain": true, "domainWidth": 2, "domainColor": "black", "grid": false, "labels": false, "ticks": true, "tickSize": -5, "tickWidth": 2, "tickColor": "black", "title": null}},
            "y": {"field": "signal", "type": "quantitative", "scale": {"domain": [0, 399], "nice": false, "zero": false}}
          }
        },
        {
          "data": {"name": "notesB"},
          "transform": [{"filter": "datum.role !== 'residue'"}],
          "mark": {"type": "text", "align": "left", "baseline": "middle", "fontWeight": "bold", "font": "Liberation Sans", "color": "black"},
          "encoding": {
            "x": {"field": "shift", "type": "quantitative", "scale": {"domain": [0.855, 1.1464], "reverse": true, "nice": false, "zero": false}, "axis": null},
            "y": {"field": "signal", "type": "quantitative", "scale": {"domain": [0, 399], "nice": false, "zero": false}},
            "text": {"field": "label"},
            "size": {"field": "role", "type": "nominal", "scale": {"domain": ["panel", "sample"], "range": [24, 20]}, "legend": null}
          }
        },
        {
          "data": {"name": "notesB"},
          "transform": [{"filter": "datum.role === 'residue'"}],
          "mark": {"type": "text", "align": "center", "baseline": "middle", "fontWeight": "bold", "font": "Liberation Sans", "fontSize": 16, "color": "black"},
          "encoding": {
            "x": {"field": "shift", "type": "quantitative", "scale": {"domain": [0.855, 1.1464], "reverse": true, "nice": false, "zero": false}, "axis": null},
            "y": {"field": "signal", "type": "quantitative", "scale": {"domain": [0, 399], "nice": false, "zero": false}},
            "text": {"field": "label"}
          }
        }
      ]
    }
  ]
}
